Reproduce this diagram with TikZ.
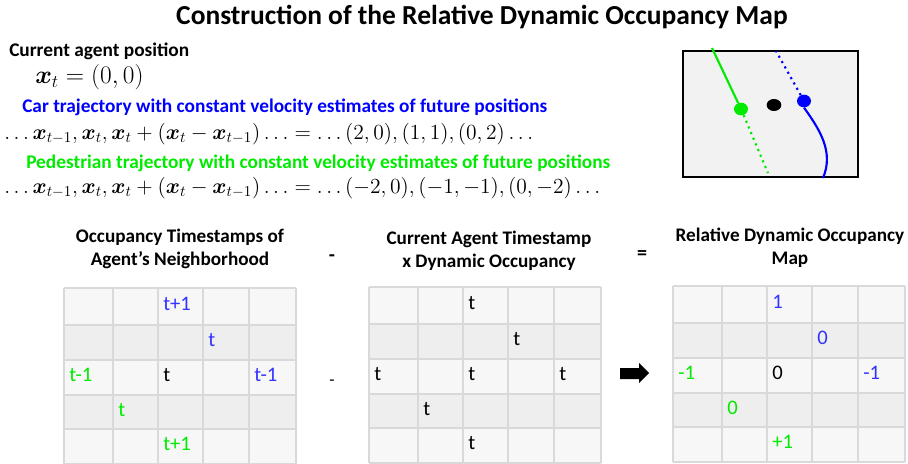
\RequirePackage{fix-cm}
\documentclass[tikz,border=0pt]{standalone}
\usepackage{amsmath}
\usepackage{amssymb}
\usepackage{fontspec}
\setmainfont{Carlito}
\usepackage{xcolor}
\usetikzlibrary{shapes,arrows,positioning,calc}

\definecolor{carblue}{RGB}{0,0,255}
\definecolor{cellblue}{RGB}{51,51,255}
\definecolor{pedgreen}{RGB}{0,235,0}
\definecolor{rowlight}{RGB}{247,247,247}
\definecolor{rowdark}{RGB}{238,238,238}
\definecolor{gridline}{RGB}{217,217,217}
\definecolor{panelgray}{RGB}{242,242,242}

\newcommand{\vx}{\boldsymbol{x}}

\begin{document}
\begin{tikzpicture}[
    x=0.75pt, y=-0.75pt,
    title/.style={font=\fontsize{20.6}{24}\selectfont\bfseries, inner sep=0pt},
    infotext/.style={font=\fontsize{14.5}{17}\selectfont\bfseries, anchor=west, inner sep=0pt},
    eqn/.style={font=\fontsize{16.15}{19}\selectfont, anchor=west, inner sep=0pt},
    heading/.style={font=\fontsize{14.4}{17}\selectfont\bfseries, align=center, inner sep=0pt},
    cell/.style={font=\fontsize{15.5}{17}\selectfont, anchor=west, inner sep=0pt,
                 text height=0.63em, text depth=0pt},
    op/.style={font=\fontsize{15}{17}\selectfont\bfseries, inner sep=0pt},
    gridrule/.style={draw=gridline, line width=1.1pt},
    agentdot/.style={ellipse, inner sep=0pt, minimum width=10.5pt, minimum height=9.5pt},
    dotline/.style={line width=1.6pt, dash pattern=on 1.6pt off 3pt},
    trackline/.style={line width=1.6pt}
]
    \useasboundingbox (0,0) rectangle (908,464);

    % Title and agent description
    \node[title] (head) at (482,17) {Construction of the Relative Dynamic Occupancy Map};
    \node[infotext] (agentpos) at (9,51) {Current agent position};
    \node[eqn, font=\fontsize{19}{22}\selectfont] (agenteq) at (35,77) {$\vx_t = (0,0)$};
    \node[infotext, text=carblue] (cartext) at (22,107)
        {Car trajectory with constant velocity estimates of future positions};
    \node[eqn] (careq) at (4,134)
        {$\ldots\vx_{t-1},\vx_t,\vx_t+(\vx_t-\vx_{t-1})\ldots=\ldots(2,0),(1,1),(0,2)\ldots$};
    \node[infotext, text=pedgreen] (pedtext) at (26,163)
        {Pedestrian trajectory with constant velocity estimates of future positions};
    \node[eqn] (pedeq) at (4,188)
        {$\ldots\vx_{t-1},\vx_t,\vx_t+(\vx_t-\vx_{t-1})\ldots=\ldots(-2,0),(-1,-1),(0,-2)\ldots$};

    % Scene sketch
    \filldraw[fill=panelgray, draw=black, line width=2pt] (683,51) rectangle (858,177);
    \node[agentdot, fill=pedgreen] (ped) at (741,109) {};
    \node[agentdot, fill=black, minimum width=11pt, minimum height=9pt] (ego) at (774,105) {};
    \node[agentdot, fill=carblue] (car) at (804,101) {};
    \coordinate (pedpast) at (712,48);
    \coordinate (pedfuture) at (768,173);
    \coordinate (carfuture) at (776,51);
    \coordinate (carpast) at (823,178);
    \draw[pedgreen, trackline] (pedpast) -- (ped);
    \draw[pedgreen, dotline] (ped) -- (pedfuture);
    \draw[carblue, dotline] (car) -- (carfuture);
    \draw[carblue, trackline] (car.south) .. controls (820,130) and (834,152) .. (carpast);

    % Grid headings and operators
    \node[heading] (occhead) at (180,249) {Occupancy Timestamps of\\Agent's Neighborhood};
    \node[heading] (curhead) at (489,251) {Current Agent Timestamp\\x Dynamic Occupancy};
    \node[heading] (relhead) at (790,248) {Relative Dynamic Occupancy\\Map};
    \node[op] (minustop) at (332,258) {-};
    \node[op, font=\fontsize{13}{15}\selectfont] (minusmid) at (332,383) {-};
    \node[op] (equals) at (642,255) {=};
    % block arrow towards the result
    \fill[black] (620,368) -- (639,368) -- (639,363) -- (649,373) -- (639,383)
                 -- (639,379) -- (620,379) -- cycle;

    % Grids: row bands and rules
    \foreach \gx/\gy in {64/288, 369/287, 673/286}{
        \foreach \top/\bot/\shade in {0/37/rowlight, 37/72/rowdark, 72/107/rowlight,
                                      107/141/rowdark, 141/176/rowlight}
            \fill[\shade] (\gx,\gy+\top) rectangle (\gx+232,\gy+\bot);
        \foreach \cx in {0,49,94,139,185,232}
            \draw[gridrule] (\gx+\cx,\gy) -- (\gx+\cx,\gy+176);
        \foreach \cy in {0,37,72,107,141,176}
            \draw[gridrule] (\gx,\gy+\cy) -- (\gx+232,\gy+\cy);
    }

    % Occupancy timestamps
    \foreach \r/\c/\txt/\col in {1/3/t+1/cellblue, 2/4/t/cellblue, 3/1/t-1/pedgreen,
                                 3/3/t/black, 3/5/t-1/cellblue, 4/2/t/pedgreen, 5/3/t+1/pedgreen}{
        \pgfmathsetmacro\cellx{64+{0,49,94,139,185}[\c-1]+5}
        \pgfmathsetmacro\celly{288+{18.5,54.5,89.5,124,158.5}[\r-1]}
        \node[cell, text=\col] (occ-\r-\c) at (\cellx,\celly) {\txt};
    }
    % Current agent timestamp
    \foreach \r/\c in {1/3, 2/4, 3/1, 3/3, 3/5, 4/2, 5/3}{
        \pgfmathsetmacro\cellx{369+{0,49,94,139,185}[\c-1]+5}
        \pgfmathsetmacro\celly{287+{18.5,54.5,89.5,124,158.5}[\r-1]}
        \node[cell] (cur-\r-\c) at (\cellx,\celly) {t};
    }
    % Relative map
    \foreach \r/\c/\txt/\col in {1/3/1/cellblue, 2/4/0/cellblue, 3/1/-1/pedgreen,
                                 3/3/0/black, 3/5/-1/cellblue, 4/2/0/pedgreen, 5/3/+1/pedgreen}{
        \pgfmathsetmacro\cellx{673+{0,49,94,139,185}[\c-1]+5}
        \pgfmathsetmacro\celly{286+{18.5,54.5,89.5,124,158.5}[\r-1]}
        \node[cell, text=\col] (rel-\r-\c) at (\cellx,\celly) {\txt};
    }
\end{tikzpicture}
\end{document}
